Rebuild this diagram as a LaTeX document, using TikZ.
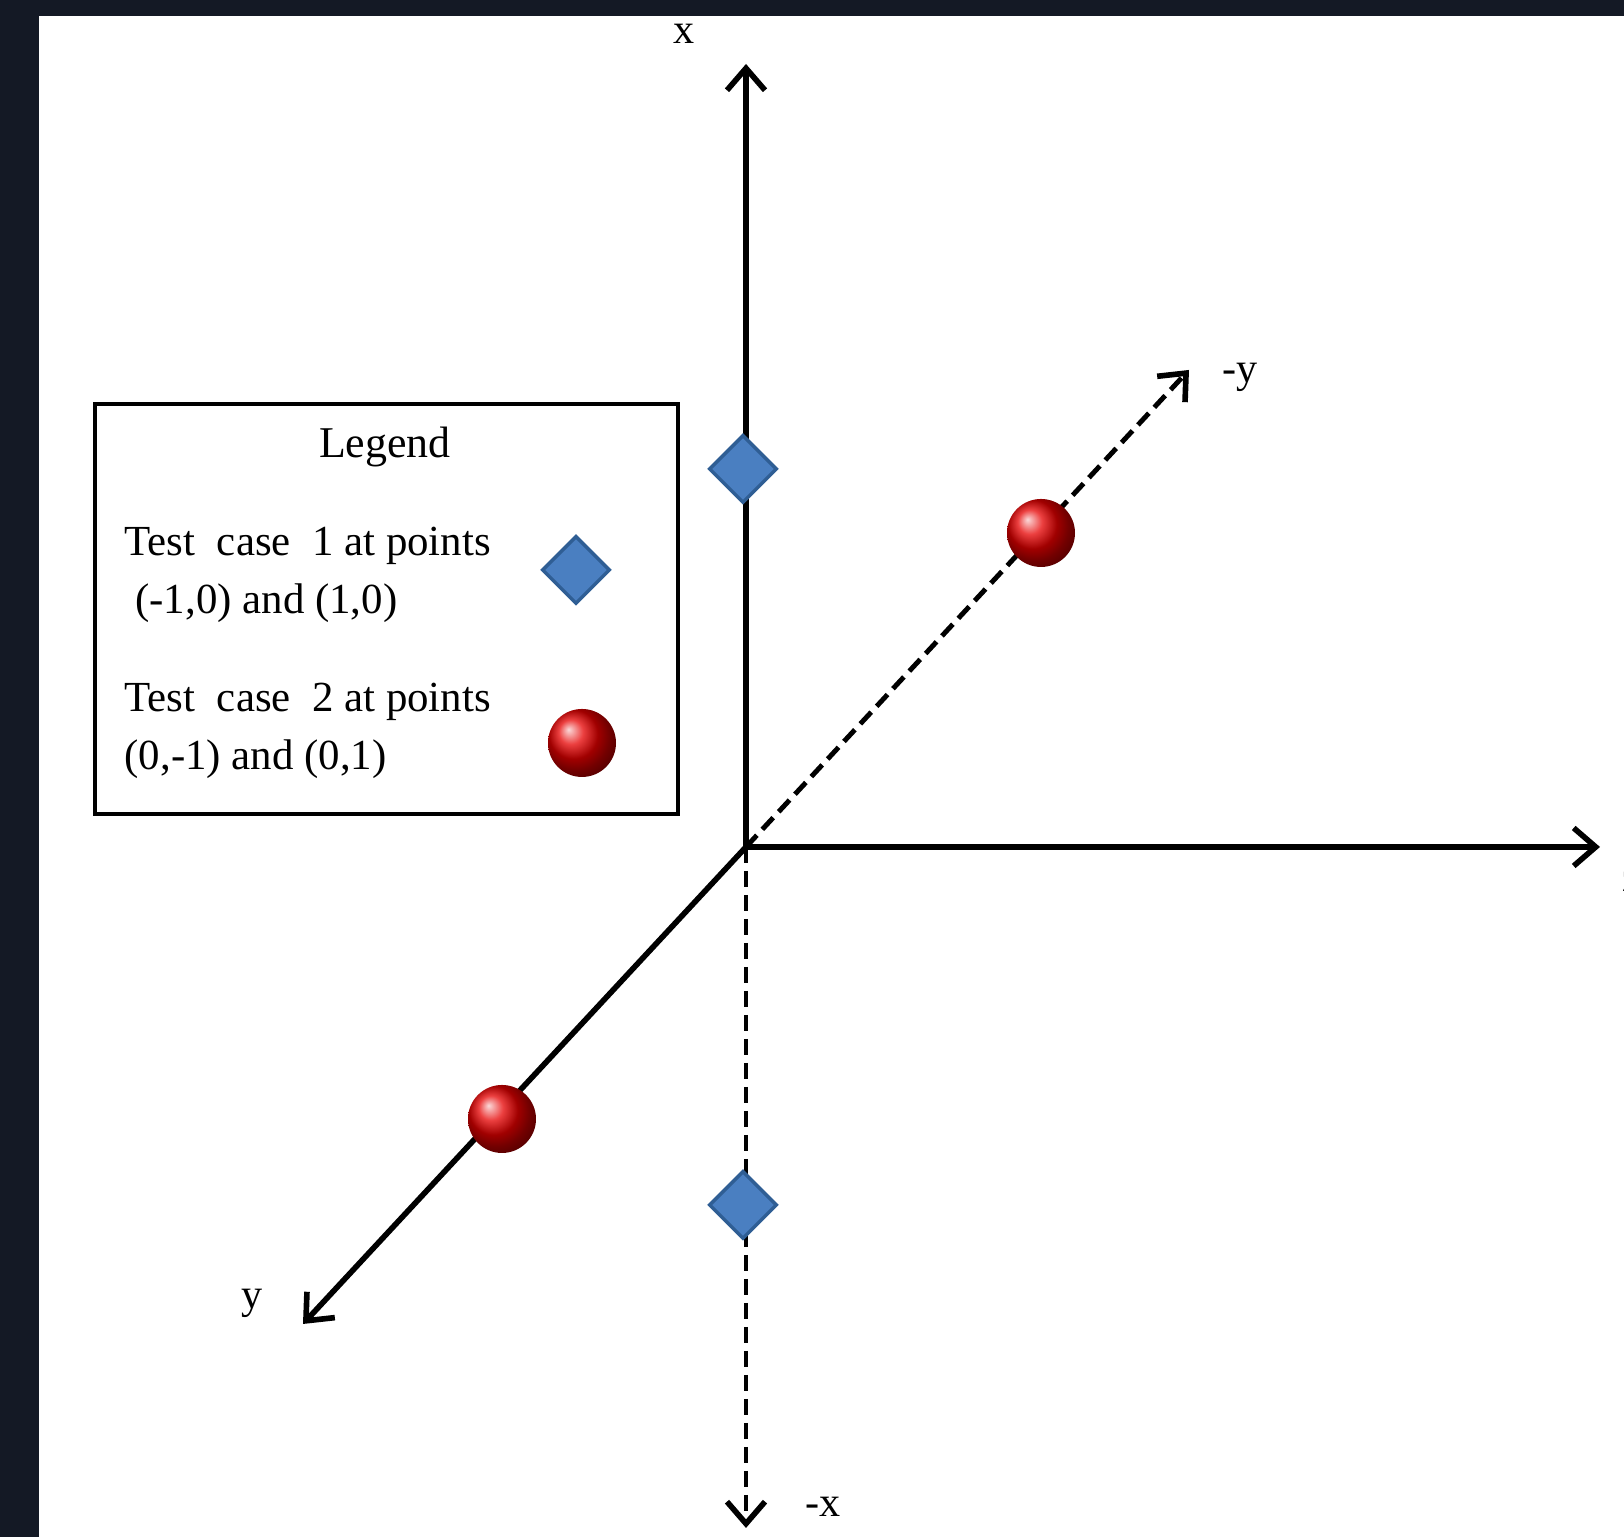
\documentclass[tikz,border=0pt]{standalone}
\usepackage{fontspec}
\setmainfont{Liberation Serif}
\usepackage{tikz}
\usetikzlibrary{arrows.meta, positioning, shapes.geometric, shadings}
\definecolor{spacebg}{HTML}{141925}
\definecolor{diamondblue}{HTML}{4A7FC1}
\definecolor{diamondedge}{HTML}{2F5E94}
\tikzset{
	axisline/.style={
			line width=1.6pt,
			-{Straight Barb[length=2.2mm,width=3.8mm,line width=1.6pt]}
		},
	dashaxis/.style={
			axisline,
			line width=1.4pt,
			dash pattern=on 1.6mm off 0.8mm
		},
	axislabel/.style={
			font=\fontsize{12}{14}\selectfont,
			inner sep=0pt
		},
	bluenode/.style={
			diamond,
			draw=diamondedge,
			fill=diamondblue,
			line width=1pt,
			minimum width=6.8mm,
			minimum height=6.8mm,
			inner sep=0pt
		},
	rednode/.style={
			circle,
			shading=ball,
			ball color=red!90!black,
			minimum size=6.8mm,
			inner sep=0pt
		},
	legendtext/.style={
			font=\fontsize{12.2}{16.5}\selectfont,
			align=left,
			anchor=west,
			inner sep=0pt
		}
}

\begin{document}
\begin{tikzpicture}

  % page and background
  \useasboundingbox (0,0) rectangle (16.24,15.37);
  \fill[spacebg] (0,0) rectangle (16.24,15.37);
  \fill[white] (0.39,0) rectangle (16.24,15.21);

  % axes
  \coordinate (O) at (7.46,6.90);
  \coordinate (xpos) at (7.46,14.73);
  \coordinate (xneg) at (7.46,0.09);
  \coordinate (zpos) at (16.00,6.90);
  \coordinate (ypos) at (3.03,2.13);
  \coordinate (yneg) at (11.89,11.67);

  \draw[axisline] (O) -- (xpos);
  \draw[dashaxis] (O) -- (xneg);
  \draw[axisline] (O) -- (zpos);
  \draw[axisline] (O) -- (ypos);
  \draw[dashaxis] (O) -- (yneg);

  \node[axislabel] (lx) at (6.84,15.03) {x};
  \node[axislabel] (lxn) at (8.23,0.30) {-x};
  \node[axislabel] (lz) at (16.32,6.55) {z};
  \node[axislabel] (ly) at (2.52,2.34) {y};
  \node[axislabel] (lyn) at (12.40,11.60) {-y};

  % test points
  \node[bluenode] (b1) at (7.43,10.68) {};
  \node[bluenode] (b2) at (7.43,3.32) {};
  \node[rednode] (r1) at (10.41,10.04) {};
  \node[rednode] (r2) at (5.02,4.18) {};

  % legend
  \node[draw=black, line width=1pt, fill=white, minimum width=5.83cm, minimum height=4.10cm, inner sep=0pt] (legend) at (3.865,9.28) {};
  \node[font=\fontsize{12.5}{15}\selectfont, inner sep=0pt] (ltitle) at (3.85,10.90) {Legend};
  \node[legendtext] (lcase1) at (1.24,9.62) {Test\ \ case\ \ 1 at points\\\ (-1,0) and (1,0)};
  \node[legendtext] (lcase2) at (1.24,8.06) {Test\ \ case\ \ 2 at points\\(0,-1) and (0,1)};
  \node[bluenode] (lb) at (5.76,9.67) {};
  \node[rednode] (lr) at (5.82,7.94) {};

\end{tikzpicture}
\end{document}
